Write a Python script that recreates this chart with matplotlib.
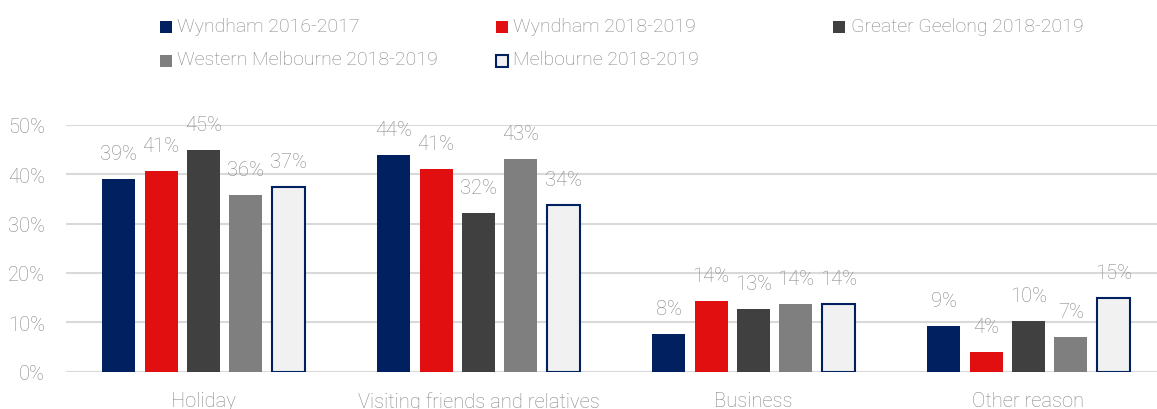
import matplotlib
matplotlib.use("Agg")
import matplotlib.pyplot as plt
from matplotlib.patches import Rectangle
import numpy as np

plt.rcParams['font.family'] = ['Roboto', 'DejaVu Sans']

categories = ["Holiday", "Visiting friends and relatives", "Business", "Other reason"]
series_names = ["Wyndham 2016-2017", "Wyndham 2018-2019", "Greater Geelong 2018-2019",
                "Western Melbourne 2018-2019", "Melbourne 2018-2019"]
wyndham_1617 = [39.0, 43.9, 7.6, 9.2]
wyndham_1819 = [40.6, 41.0, 14.3, 4.0]
geelong_1819 = [44.8, 32.1, 12.6, 10.3]
western_1819 = [35.8, 43.0, 13.7, 7.1]
melbourne_1819 = [37.3, 33.8, 13.8, 14.9]
yticks = [0, 10, 20, 30, 40, 50]

series = [wyndham_1617, wyndham_1819, geelong_1819, western_1819, melbourne_1819]
faces = ["#002060", "#e20f10", "#404040", "#7f7f7f", "#f1f1f1"]
edges = ["#002060", "#e20f10", "#404040", "#7f7f7f", "#002060"]
lws = [0, 0, 0, 0, 1.5]
txt = "#858585"

W, H = 1157, 410
fig = plt.figure(figsize=(W / 100, H / 100), dpi=100)
ax = fig.add_axes([66 / W, (H - 372.7) / H, 1100 / W, 247 / H])

x = np.arange(len(categories))
width = 0.12
step = 0.154
for i, (vals, fc, ec, lw) in enumerate(zip(series, faces, edges, lws)):
    pos = x + (i - 2) * step
    ax.bar(pos, vals, width, color=fc, edgecolor=ec, linewidth=lw, zorder=3)
    for xp, v in zip(pos, vals):
        ax.annotate(f"{v:.0f}%", (xp, v), xytext=(0, 14.4), textcoords="offset points",
                    ha="center", va="baseline", fontsize=14.5, color=txt,
                    fontweight="light", zorder=4)

ax.set_xlim(-0.5, 3.5)
ax.set_ylim(0, 50)
ax.set_yticks(yticks)
ax.set_yticklabels([f"{t}%" for t in yticks])
ax.set_xticks(x)
ax.set_xticklabels(categories)
ax.yaxis.grid(True, color="#d9d9d9", linewidth=1.5, zorder=0)
ax.set_axisbelow(True)
for s in ax.spines.values():
    s.set_visible(False)
ax.tick_params(axis="both", length=0, colors=txt, labelsize=14.5)
ax.tick_params(axis="y", pad=15)
ax.tick_params(axis="x", pad=14)
for lab in ax.get_xticklabels() + ax.get_yticklabels():
    lab.set_fontweight("light")

# legend (manual placement): marker left, marker top, text left, text baseline
leg = [
    (159.5, 22, 177, 31.7, 0),
    (496, 22, 513, 31.7, 1),
    (832.7, 22, 850.7, 31.7, 2),
    (159.5, 55.5, 177, 65, 3),
    (496, 55.5, 513, 65, 4),
]
for mx, my, tx, ty, i in leg:
    fig.patches.append(Rectangle((mx / W, 1 - (my + 12) / H), 12 / W, 12 / H,
                                 transform=fig.transFigure, facecolor=faces[i],
                                 edgecolor=edges[i], linewidth=1.5 if i == 4 else 0))
    fig.text(tx / W, 1 - ty / H, series_names[i], fontsize=14, color=txt,
             ha="left", va="baseline", fontweight="light")

fig.savefig("out.png", dpi=100)
